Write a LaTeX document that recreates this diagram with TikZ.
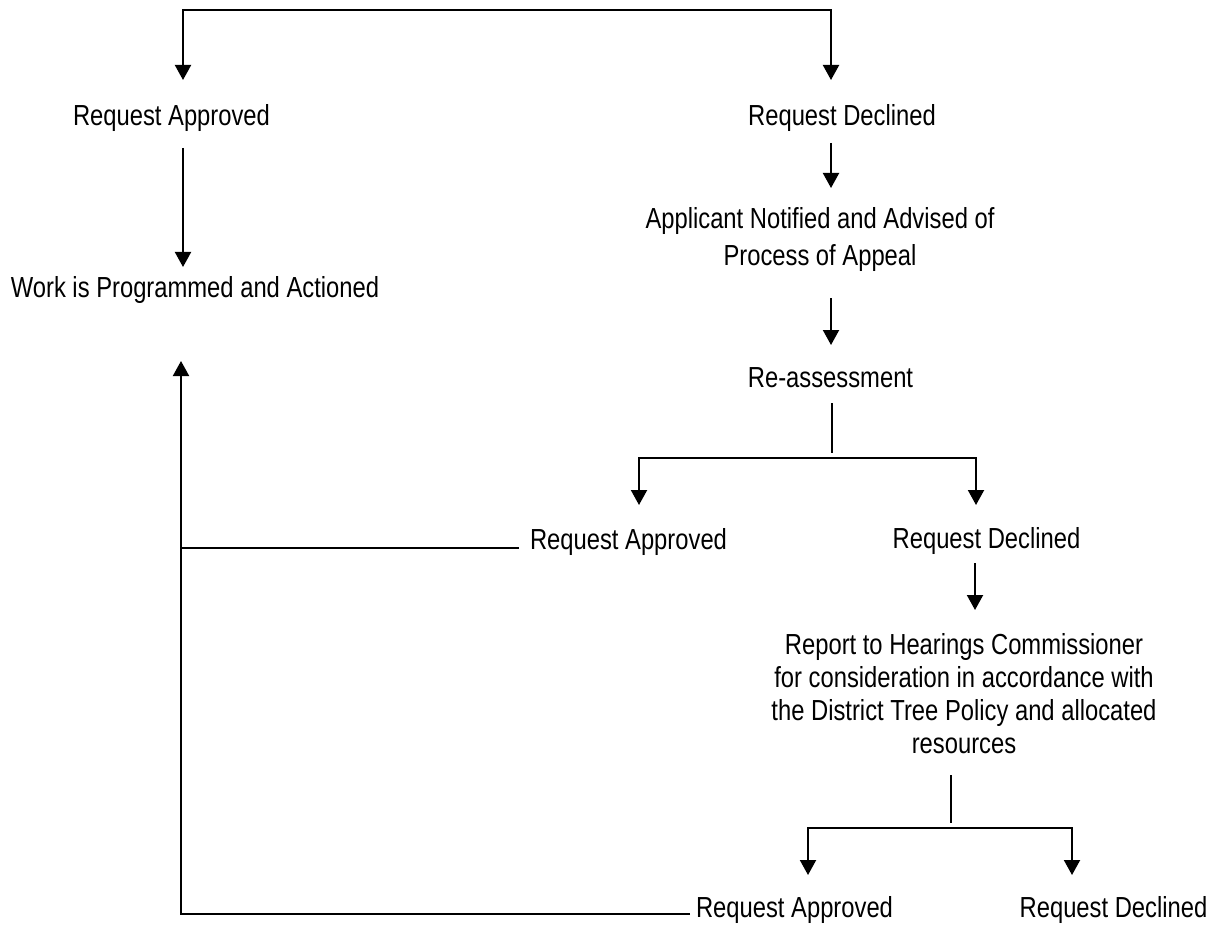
\documentclass[tikz,border=0pt]{standalone}
\usepackage{fontspec}
\setmainfont{Liberation Sans}[FakeStretch=0.82]
\usetikzlibrary{arrows.meta}
\begin{document}
\begin{tikzpicture}[x=0.5pt,y=-0.5pt,
  txt/.style={anchor=base, inner sep=0pt, align=center,
    font=\fontsize{14.5}{18}\selectfont},
  link/.style={line width=1pt},
  flow/.style={link, -{Triangle[width=8pt,length=7.5pt]}},
  fork/.style={link, {Triangle[width=8pt,length=7.5pt]}-{Triangle[width=8pt,length=7.5pt]}}]
  \useasboundingbox (0,0) rectangle (1220,925);

  % text nodes (base anchor = baseline of the last line)
  \node[txt] (ra1) at (171.5,126) {Request Approved};
  \node[txt] (rd1) at (842,126) {Request Declined};
  \node[txt] (work) at (195,298) {Work is Programmed and Actioned};
  \node[txt] (appl) at (820,265) {Applicant Notified and Advised of\\Process of Appeal};
  \node[txt] (reas) at (830.5,387) {Re-assessment};
  \node[txt] (ra2) at (628.5,549) {Request Approved};
  \node[txt] (rd2) at (986.5,548) {Request Declined};
  \node[txt, font=\fontsize{14.5}{16.5}\selectfont] (rep) at (964,753)
    {Report to Hearings Commissioner\\for consideration in accordance with\\the District Tree Policy and allocated\\resources};
  \node[txt] (ra3) at (794.5,917) {Request Approved};
  \node[txt] (rd3) at (1113.5,917) {Request Declined};

  % connector end points
  \coordinate (ra1in) at (183,80);
  \coordinate (rd1in) at (831,80);
  \coordinate (ra1out) at (183,148);
  \coordinate (workin) at (183,267);
  \coordinate (rd1out) at (831,143);
  \coordinate (applin) at (831,188);
  \coordinate (applout) at (831,298);
  \coordinate (reasin) at (831,345);
  \coordinate (reasout) at (832,403);
  \coordinate (reasstem) at (832,453);
  \coordinate (ra2in) at (639,505);
  \coordinate (rd2in) at (976,505);
  \coordinate (ra2out) at (519,548);
  \coordinate (workup) at (181,361);
  \coordinate (rd2out) at (975,563);
  \coordinate (repin) at (975,610);
  \coordinate (repout) at (951,775);
  \coordinate (repstem) at (951,823);
  \coordinate (ra3in) at (808,875);
  \coordinate (rd3in) at (1072,875);
  \coordinate (ra3out) at (690,914);

  % top split
  \draw[fork] (ra1in) |- (831,10) -- (rd1in);
  % left column
  \draw[flow] (ra1out) -- (workin);
  % right column
  \draw[flow] (rd1out) -- (applin);
  \draw[flow] (applout) -- (reasin);
  \draw[link] (reasout) -- (reasstem);
  \draw[fork] (ra2in) |- (976,458) -- (rd2in);
  \draw[flow] (rd2out) -- (repin);
  \draw[link] (repout) -- (repstem);
  \draw[fork] (ra3in) |- (1072,828) -- (rd3in);
  % approvals returning to the work step
  \draw[link] (ra2out) -- (181,548);
  \draw[flow] (ra3out) -| (workup);
\end{tikzpicture}
\end{document}
